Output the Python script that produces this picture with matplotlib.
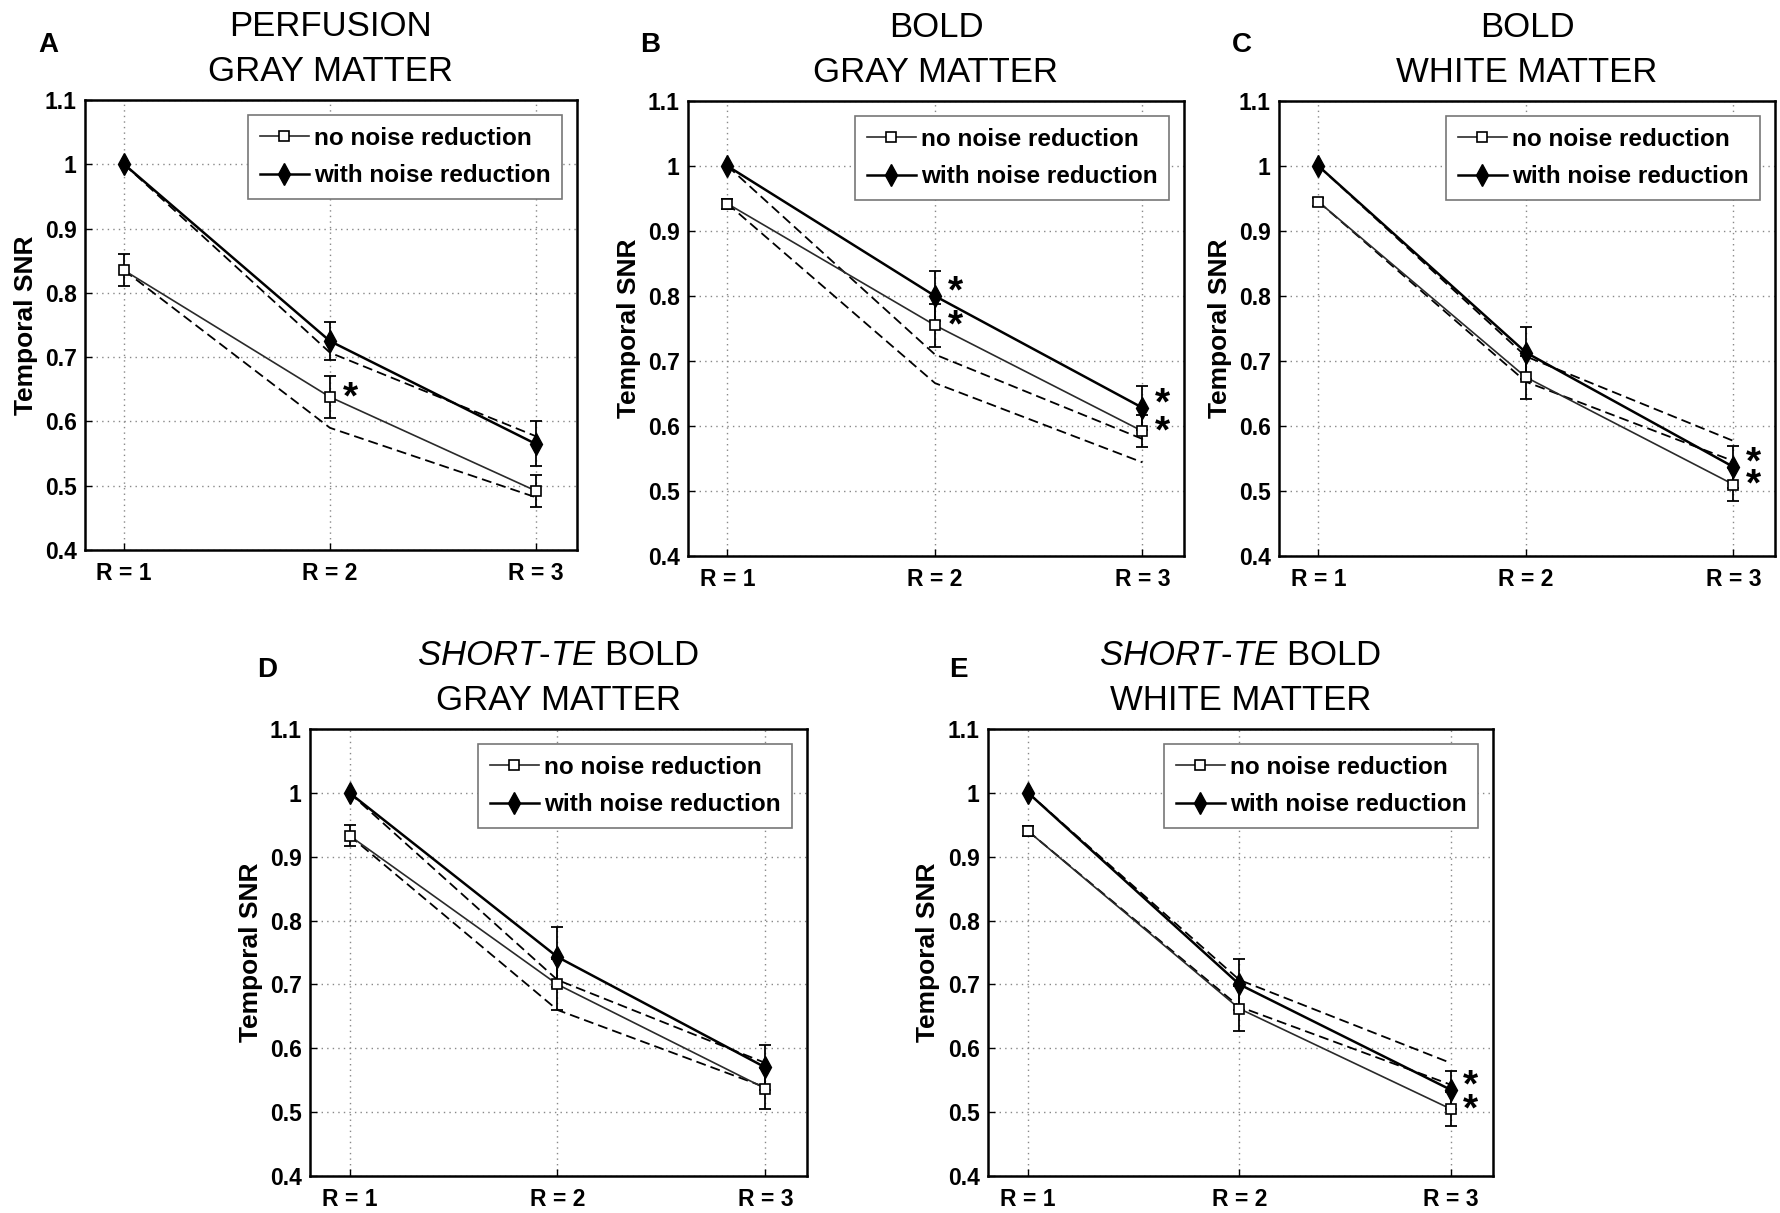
import matplotlib
matplotlib.use('Agg')
import matplotlib.pyplot as plt

plt.rcParams['font.family'] = ['Liberation Sans', 'DejaVu Sans']
plt.rcParams['mathtext.fontset'] = 'custom'
plt.rcParams['mathtext.it'] = 'Liberation Sans:italic'
plt.rcParams['mathtext.rm'] = 'Liberation Sans'

# ---------------- data ----------------
R_POS = [1, 2, 3]
R_LABELS = ['R = 1', 'R = 2', 'R = 3']
Y_TICKS = [0.4, 0.5, 0.6, 0.7, 0.8, 0.9, 1.0, 1.1]
Y_TICK_LABELS = ['0.4', '0.5', '0.6', '0.7', '0.8', '0.9', '1', '1.1']
LEGEND_LABELS = ['no noise reduction', 'with noise reduction']
Y_LABEL = 'Temporal SNR'

# Panel A: perfusion, gray matter
A_no = [0.835, 0.638, 0.492]
A_no_err = [0.025, 0.032, 0.025]
A_nr = [1.0, 0.725, 0.565]
A_nr_err = [0.0, 0.030, 0.035]
A_no_ref = [0.835, 0.590, 0.482]
A_nr_ref = [1.0, 0.707, 0.577]
A_stars = [('no', 1)]

# Panel B: BOLD, gray matter
B_no = [0.942, 0.755, 0.592]
B_no_err = [0.008, 0.033, 0.025]
B_nr = [1.0, 0.800, 0.628]
B_nr_err = [0.0, 0.038, 0.034]
B_no_ref = [0.942, 0.666, 0.544]
B_nr_ref = [1.0, 0.710, 0.580]
B_stars = [('nr', 1), ('no', 1), ('nr', 2), ('no', 2)]

# Panel C: BOLD, white matter
C_no = [0.945, 0.675, 0.510]
C_no_err = [0.006, 0.033, 0.025]
C_nr = [1.0, 0.713, 0.537]
C_nr_err = [0.0, 0.040, 0.033]
C_no_ref = [0.945, 0.668, 0.546]
C_nr_ref = [1.0, 0.707, 0.577]
C_stars = [('nr', 2), ('no', 2)]

# Panel D: short-TE BOLD, gray matter
D_no = [0.933, 0.700, 0.537]
D_no_err = [0.017, 0.040, 0.032]
D_nr = [1.0, 0.743, 0.570]
D_nr_err = [0.0, 0.047, 0.035]
D_no_ref = [0.933, 0.660, 0.539]
D_nr_ref = [1.0, 0.707, 0.577]
D_stars = []

# Panel E: short-TE BOLD, white matter
E_no = [0.940, 0.662, 0.505]
E_no_err = [0.008, 0.035, 0.027]
E_nr = [1.0, 0.700, 0.535]
E_nr_err = [0.0, 0.040, 0.030]
E_no_ref = [0.940, 0.665, 0.543]
E_nr_ref = [1.0, 0.707, 0.577]
E_stars = [('nr', 2), ('no', 2)]

PANEL_LETTERS = ['A', 'B', 'C', 'D', 'E']
TITLES_1 = ['PERFUSION', 'BOLD', 'BOLD',
            r'$\mathit{SHORT}$-$\mathit{TE}$ BOLD', r'$\mathit{SHORT}$-$\mathit{TE}$ BOLD']
TITLES_2 = ['GRAY MATTER', 'GRAY MATTER', 'WHITE MATTER', 'GRAY MATTER', 'WHITE MATTER']

panels = [
    dict(no=A_no, no_err=A_no_err, nr=A_nr, nr_err=A_nr_err, no_ref=A_no_ref, nr_ref=A_nr_ref, stars=A_stars),
    dict(no=B_no, no_err=B_no_err, nr=B_nr, nr_err=B_nr_err, no_ref=B_no_ref, nr_ref=B_nr_ref, stars=B_stars),
    dict(no=C_no, no_err=C_no_err, nr=C_nr, nr_err=C_nr_err, no_ref=C_no_ref, nr_ref=C_nr_ref, stars=C_stars),
    dict(no=D_no, no_err=D_no_err, nr=D_nr, nr_err=D_nr_err, no_ref=D_no_ref, nr_ref=D_nr_ref, stars=D_stars),
    dict(no=E_no, no_err=E_no_err, nr=E_nr, nr_err=E_nr_err, no_ref=E_no_ref, nr_ref=E_nr_ref, stars=E_stars),
]

# ---------------- layout (pixels in a 1781x1213 canvas) ----------------
W, H = 1781, 1213
AX_BOXES = [(85, 100, 577, 550), (688, 101, 1184, 556), (1279, 101, 1775, 556),
            (310, 729, 807, 1176), (988, 729, 1493, 1176)]
LETTER_POS = [(48, 45), (650, 45), (1242, 45), (267, 670), (958, 670)]
STAR_OFFSET = {'nr': (9, -5), 'no': (9, -8)}

fig = plt.figure(figsize=(W / 100, H / 100), dpi=100)
fig.patch.set_facecolor('white')

for k, (p, box) in enumerate(zip(panels, AX_BOXES)):
    l, t, r, b = box
    ax = fig.add_axes([l / W, 1 - b / H, (r - l) / W, (b - t) / H])
    x = R_POS
    ax.plot(x, p['no_ref'], color='black', lw=1.3, ls=(0, (5.5, 2.8)), zorder=2)
    ax.plot(x, p['nr_ref'], color='black', lw=1.3, ls=(0, (5.5, 2.8)), zorder=2)
    l_no, = ax.plot(x, p['no'], color='#2a2a2a', lw=1.2, marker='s', ms=7.5,
                    mfc='white', mec='black', mew=1.2, zorder=4)
    l_nr, = ax.plot(x, p['nr'], color='black', lw=1.8, marker='d', ms=11,
                    mfc='black', mec='black', zorder=5)
    for vals, errs in ((p['no'], p['no_err']), (p['nr'], p['nr_err'])):
        idx = [i for i, e in enumerate(errs) if e > 0]
        ax.errorbar([x[i] for i in idx], [vals[i] for i in idx], yerr=[errs[i] for i in idx],
                    fmt='none', ecolor='black', elinewidth=1.3, capsize=4.5, capthick=1.3, zorder=3)
    for series, i in p['stars']:
        ax.annotate('*', xy=(x[i], p[series][i]), xytext=STAR_OFFSET[series],
                    textcoords='offset points', ha='left', va='baseline',
                    fontsize=28, fontweight='bold', zorder=6)

    ax.set_xlim(0.81, 3.2)
    ax.set_ylim(0.4, 1.1)
    ax.set_xticks(R_POS)
    ax.set_xticklabels(R_LABELS, fontsize=16.5, fontweight='bold')
    ax.set_yticks(Y_TICKS)
    ax.set_yticklabels(Y_TICK_LABELS, fontsize=16.5, fontweight='bold')
    ax.tick_params(axis='both', direction='in', length=5, width=1)
    ax.tick_params(axis='x', pad=9)
    ax.tick_params(axis='y', pad=6)
    ax.grid(True, linestyle=(0, (1, 3)), color='#888888', linewidth=1)
    ax.set_axisbelow(True)
    for s in ax.spines.values():
        s.set_linewidth(1.8)
        s.set_color('black')
    ax.set_ylabel(Y_LABEL, fontsize=19, fontweight='bold')
    ax.yaxis.set_label_coords(-0.095, 0.5)

    leg = ax.legend([l_no, l_nr], LEGEND_LABELS, loc='upper right',
                    prop=dict(weight='bold', size=17.5), frameon=True, fancybox=False,
                    edgecolor='#777777', framealpha=1, handlelength=2.0, handletextpad=0.2,
                    borderpad=0.5, labelspacing=0.6, borderaxespad=0.6, numpoints=1)
    leg.get_frame().set_linewidth(1.2)

    ax.annotate(TITLES_1[k], xy=(0.5, 1), xycoords='axes fraction', xytext=(0, 46),
                textcoords='offset points', ha='center', va='baseline', fontsize=25)
    ax.annotate(TITLES_2[k], xy=(0.5, 1), xycoords='axes fraction', xytext=(0, 14),
                textcoords='offset points', ha='center', va='baseline', fontsize=25)
    lx, ly = LETTER_POS[k]
    fig.text(lx / W, 1 - ly / H, PANEL_LETTERS[k], ha='center', va='center',
             fontsize=20, fontweight='bold')

fig.savefig('out.png', dpi=100, facecolor='white')
